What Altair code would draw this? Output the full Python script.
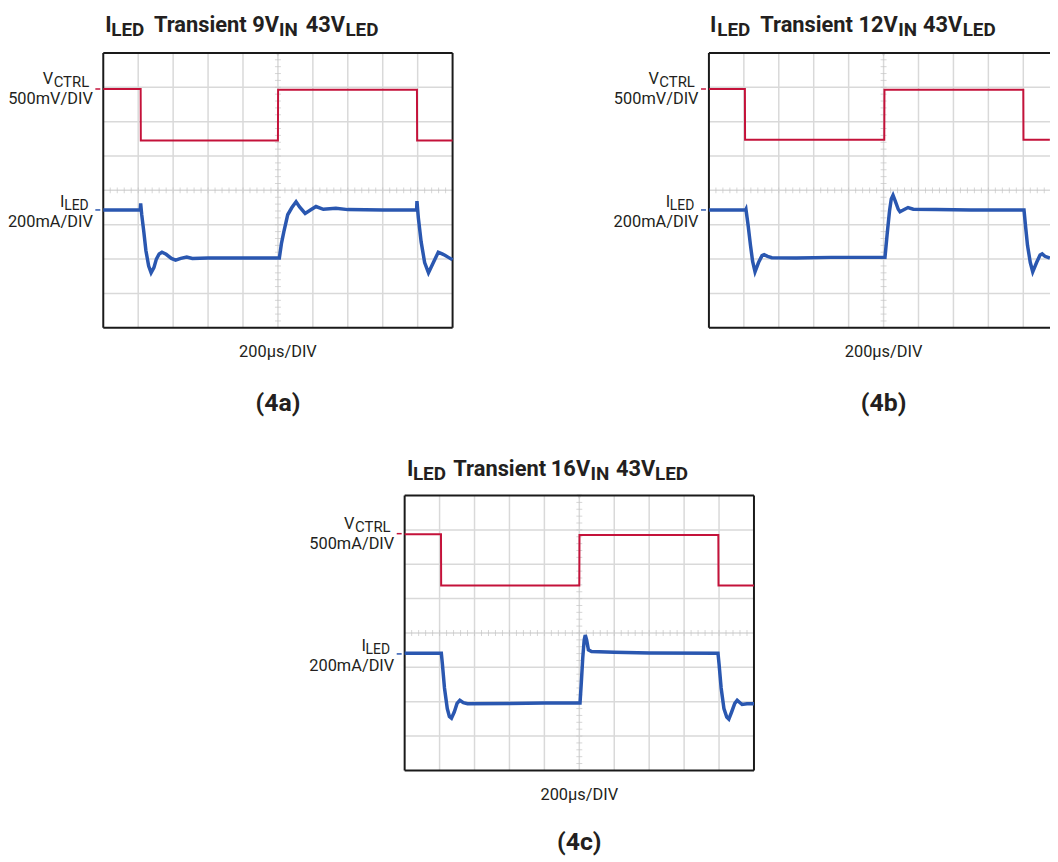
import altair as alt
import pandas as pd

FONT = "Roboto"
TXT = "#231f20"
RED = "#c4123a"
BLUE = "#2a57b0"
GRID = "#d9d9d9"
MINOR = "#c4c4c4"
BORDER = "#1a1a1a"

# ---------------- data (time in divisions of 200 µs, level in screen divisions) -------------
# Panel 4a: 9V_IN
a_vctrl_x = [0, 1.07, 1.075, 5.0, 5.005, 8.98, 8.985, 10]
a_vctrl_y = [6.95, 6.95, 5.45, 5.45, 6.93, 6.93, 5.45, 5.45]
a_iled_x = [0, 1.06, 1.07, 1.1, 1.16, 1.22, 1.3, 1.37, 1.45, 1.52, 1.6, 1.68, 1.8, 1.95, 2.07,
            2.22, 2.39, 2.55, 3.0, 4.0, 5.04, 5.1, 5.17, 5.28, 5.4, 5.52, 5.62, 5.78, 5.92, 6.09,
            6.3, 6.66, 7.0, 8.0, 8.97, 8.98, 9.02, 9.1, 9.2, 9.31, 9.45, 9.59, 9.7, 9.78, 9.88, 10]
a_iled_y = [3.43, 3.43, 3.62, 3.3, 2.8, 2.25, 1.8, 1.6, 1.75, 2.0, 2.15, 2.2, 2.14, 2.02, 1.97,
            2.02, 2.06, 2.02, 2.03, 2.03, 2.03, 2.45, 2.8, 3.29, 3.5, 3.67, 3.52, 3.33, 3.42, 3.53,
            3.45, 3.48, 3.44, 3.43, 3.43, 3.69, 3.2, 2.5, 1.9, 1.6, 1.9, 2.2, 2.15, 2.11, 2.05, 1.98]

# Panel 4b: 12V_IN (right side cut off by the page edge)
b_vctrl_x = [0, 1.03, 1.035, 5.02, 5.025, 9.0, 9.005, 9.76]
b_vctrl_y = [6.95, 6.95, 5.47, 5.47, 6.93, 6.93, 5.47, 5.47]
b_iled_x = [0, 1.05, 1.06, 1.12, 1.19, 1.25, 1.32, 1.42, 1.52, 1.58, 1.68, 1.8, 2.5, 3.5, 4.5,
            5.04, 5.1, 5.17, 5.22, 5.27, 5.33, 5.42, 5.47, 5.55, 5.7, 5.85, 6.5, 7.5, 9.02, 9.06,
            9.12, 9.2, 9.27, 9.38, 9.48, 9.54, 9.62, 9.76]
b_iled_y = [3.43, 3.43, 3.45, 3.0, 2.4, 1.94, 1.63, 1.9, 2.1, 2.13, 2.08, 2.04, 2.03, 2.05, 2.05,
            2.05, 2.7, 3.4, 3.75, 3.86, 3.7, 3.45, 3.38, 3.42, 3.5, 3.45, 3.44, 3.43, 3.43, 3.0,
            2.4, 1.9, 1.63, 1.9, 2.12, 2.15, 2.08, 2.03]

# Panel 4c: 16V_IN
c_vctrl_x = [0, 1.04, 1.045, 5.0, 5.005, 8.98, 8.985, 10]
c_vctrl_y = [6.87, 6.87, 5.38, 5.38, 6.85, 6.85, 5.38, 5.38]
c_iled_x = [0, 1.05, 1.08, 1.14, 1.22, 1.28, 1.34, 1.42, 1.5, 1.58, 1.68, 1.8, 3.0, 4.0, 5.02,
            5.06, 5.1, 5.14, 5.17, 5.21, 5.26, 5.35, 6.0, 7.0, 8.97, 9.0, 9.06, 9.14, 9.22, 9.28,
            9.36, 9.45, 9.52, 9.6, 9.66, 9.8, 10]
c_iled_y = [3.41, 3.41, 3.1, 2.4, 1.8, 1.57, 1.52, 1.7, 1.95, 2.04, 1.97, 1.94, 1.95, 1.96, 1.96,
            2.6, 3.3, 3.8, 3.94, 3.8, 3.51, 3.46, 3.44, 3.42, 3.41, 3.1, 2.4, 1.8, 1.55, 1.49,
            1.7, 1.95, 2.04, 1.97, 1.92, 1.94, 1.94]

# channel reference-level markers
a_levels = [6.95, 3.43]
b_levels = [6.95, 3.43]
c_levels = [6.89, 3.39]

vctrl_scale_labels = ["500mV/DIV", "500mV/DIV", "500mA/DIV"]
iled_scale_label = "200mA/DIV"
time_label = "200µs/DIV"
vin_labels = ["9V", "12V", "16V"]
tags = ["(4a)", "(4b)", "(4c)"]

# scope graticule
x_grid = [1, 2, 3, 4, 5, 6, 7, 8, 9]
y_grid = [1, 2, 3, 4, 5, 6, 7]
x_minor = [i / 5 for i in range(0, 51)]
y_minor = [i / 5 for i in range(0, 41)]

# ---------------- layout (pixels) ----------------
DIV_W = 35.2
H = 277
W_FULL = 352
W_B = 343.7
TOTAL_W = 954
TOTAL_H = 723
origins = [(0, 0), (610.3, 0), (303.7, 446)]
widths = [W_FULL, W_B, W_FULL]

title_offsets = [
    [2, 8, 51, 150, 177, 204, 244],
    [1, 8.4, 51.7, 150.7, 190.7, 215.7, 255.7],
    [2.3, 8.3, 49, 147.3, 187.3, 213, 252.3],
]
title_base = [-21.5, -21.5, -19.5]
tag_base = [84, 84, 80]

LABEL_SIZE = 16.5
SUB_SIZE = 15
TITLE_SIZE = 22
TITLE_SUB = 19


def panel(k, vx, vy, ix, iy, levels, right_border):
    ox, oy = origins[k]
    width = widths[k]
    xmax = width / DIV_W
    xs = alt.Scale(domain=[0, xmax], range=[ox, ox + width], nice=False, zero=False)
    ys = alt.Scale(domain=[0, 8], range=[oy + H, oy], nice=False, zero=False)

    def X(f):
        return alt.X(f, type="quantitative", scale=xs, axis=None)

    def Y(f):
        return alt.Y(f, type="quantitative", scale=ys, axis=None)

    layers = []
    # graticule
    gx = [g for g in x_grid if g < xmax]
    layers.append(alt.Chart(pd.DataFrame({"g": gx, "y0": 0, "y1": 8}))
                  .mark_rule(color=GRID, strokeWidth=1.5)
                  .encode(x=X("g"), y=Y("y0"), y2="y1"))
    layers.append(alt.Chart(pd.DataFrame({"g": y_grid, "x0": 0, "x1": xmax}))
                  .mark_rule(color=GRID, strokeWidth=1.5)
                  .encode(y=Y("g"), x=X("x0"), x2="x1"))
    layers.append(alt.Chart(pd.DataFrame({"m": [m for m in x_minor if m <= xmax], "c": 4}))
                  .mark_tick(orient="vertical", size=6, thickness=1, color=MINOR)
                  .encode(x=X("m"), y=Y("c")))
    layers.append(alt.Chart(pd.DataFrame({"m": y_minor, "c": 5}))
                  .mark_tick(orient="horizontal", size=6, thickness=1, color=MINOR)
                  .encode(x=X("c"), y=Y("m")))
    layers.append(alt.Chart(pd.DataFrame({"c": [5], "m": [7.96]}))
                  .mark_point(shape="triangle-down", size=28, filled=True, color="#c8c8c8")
                  .encode(x=X("c"), y=Y("m")))
    # border
    bx = [0, 10] if right_border else [0]
    layers.append(alt.Chart(pd.DataFrame({"b": bx, "y0": 0, "y1": 8}))
                  .mark_rule(color=BORDER, strokeWidth=2)
                  .encode(x=X("b"), y=Y("y0"), y2="y1"))
    layers.append(alt.Chart(pd.DataFrame({"b": [0, 8], "x0": 0, "x1": xmax}))
                  .mark_rule(color=BORDER, strokeWidth=2)
                  .encode(y=Y("b"), x=X("x0"), x2="x1"))
    # traces
    layers.append(alt.Chart(pd.DataFrame({"t": vx, "v": vy, "i": range(len(vx))}))
                  .mark_line(color=RED, strokeWidth=2)
                  .encode(x=X("t"), y=Y("v"), order="i:Q"))
    layers.append(alt.Chart(pd.DataFrame({"t": ix, "v": iy, "i": range(len(ix))}))
                  .mark_line(color=BLUE, strokeWidth=3.5)
                  .encode(x=X("t"), y=Y("v"), order="i:Q"))
    # level markers
    lv = pd.DataFrame({"lv": [levels[0]]})
    li = pd.DataFrame({"lv": [levels[1]]})
    layers.append(alt.Chart(lv).mark_rule(color=RED, strokeWidth=1.5)
                  .encode(x=alt.value(ox - 8), x2=alt.value(ox - 3), y=Y("lv")))
    layers.append(alt.Chart(li).mark_rule(color=BLUE, strokeWidth=1.5)
                  .encode(x=alt.value(ox - 8), x2=alt.value(ox - 3), y=Y("lv")))

    def lab(df, text, xpx, dy, size, align="right"):
        return (alt.Chart(df).mark_text(text=text, align=align, baseline="alphabetic",
                                        font=FONT, fontSize=size, color=TXT, dy=dy)
                .encode(x=alt.value(ox + xpx), y=Y("lv")))

    layers.append(lab(lv, "V", -61, -5, LABEL_SIZE, "left"))
    layers.append(lab(lv, "CTRL", -50, -1.7, SUB_SIZE, "left"))
    layers.append(lab(lv, vctrl_scale_labels[k], -10.5, 15.5, LABEL_SIZE))
    layers.append(lab(li, "I", -43.5, -3, LABEL_SIZE, "left"))
    layers.append(lab(li, "LED", -14.7, 0, 14))
    layers.append(lab(li, iled_scale_label, -10.5, 17, LABEL_SIZE))

    # title with subscripts
    pieces = ["I", "LED", "Transient", vin_labels[k], "IN", "43V", "LED"]
    subs = [False, True, False, False, True, False, True]
    one = pd.DataFrame({"z": [0]})
    for txt, off, sub in zip(pieces, title_offsets[k], subs):
        layers.append(alt.Chart(one).mark_text(
            text=txt, align="left", baseline="alphabetic", font=FONT,
            fontSize=TITLE_SUB if sub else TITLE_SIZE, fontWeight="bold", color=TXT)
            .encode(x=alt.value(ox + off), y=alt.value(oy + title_base[k] + (4 if sub else 0))))
    # bottom texts
    layers.append(alt.Chart(one).mark_text(
        text=time_label, align="center", baseline="alphabetic", font=FONT,
        fontSize=LABEL_SIZE, color=TXT)
        .encode(x=alt.value(ox + W_FULL / 2), y=alt.value(oy + H + 29.7)))
    layers.append(alt.Chart(one).mark_text(
        text=tags[k], align="center", baseline="alphabetic", font=FONT,
        fontSize=25, fontWeight="bold", color=TXT)
        .encode(x=alt.value(ox + W_FULL / 2), y=alt.value(oy + H + tag_base[k])))
    return layers


all_layers = (
    panel(0, a_vctrl_x, a_vctrl_y, a_iled_x, a_iled_y, a_levels, True)
    + panel(1, b_vctrl_x, b_vctrl_y, b_iled_x, b_iled_y, b_levels, False)
    + panel(2, c_vctrl_x, c_vctrl_y, c_iled_x, c_iled_y, c_levels, True)
)

chart = (alt.layer(*all_layers)
         .resolve_scale(x="independent", y="independent")
         .properties(width=TOTAL_W, height=TOTAL_H,
                     autosize=alt.AutoSizeParams(type="none"),
                     padding={"left": 96, "top": 42, "right": 0, "bottom": 86})
         .configure_view(strokeWidth=0))

chart.save("out.html", embed_options={"renderer": "svg", "actions": False})
